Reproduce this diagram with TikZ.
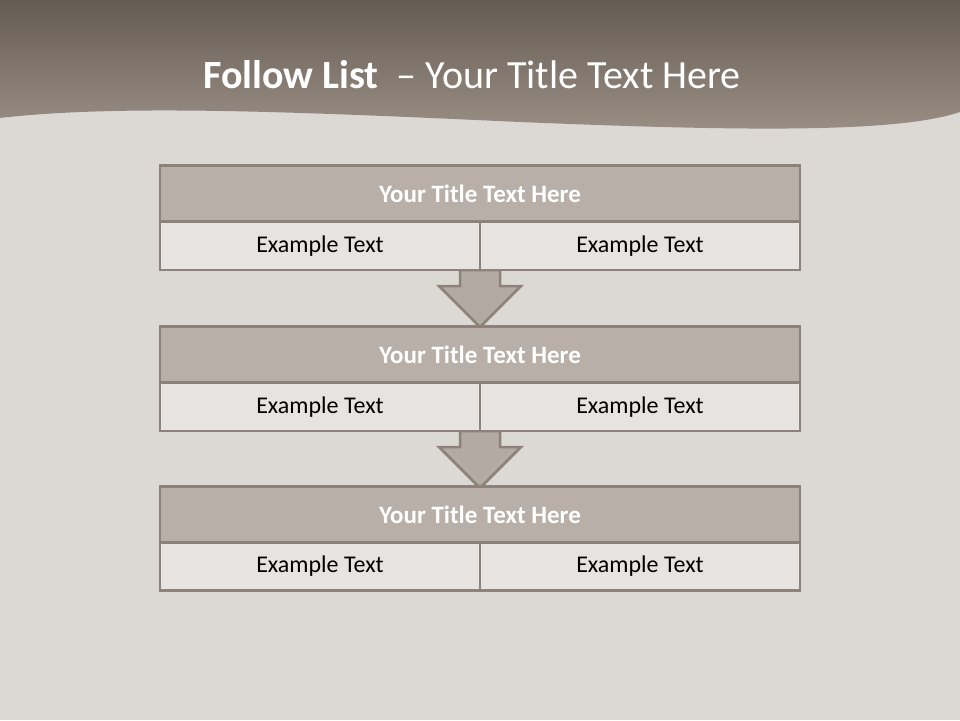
\documentclass[tikz,border=0pt]{standalone}
\usepackage{fontspec}
\setmainfont{Carlito}
\definecolor{bgc}{HTML}{DCD8D3}
\definecolor{hdtop}{HTML}{655C53}
\definecolor{hdbot}{HTML}{9A8F85}
\definecolor{edge}{HTML}{8C8279}
\definecolor{titlefill}{HTML}{B8B0A8}
\definecolor{rowfill}{HTML}{E6E3E0}
\definecolor{arrowfill}{HTML}{B3ABA3}
\tikzset{
  titlebox/.style={draw=edge, line width=2.5pt, fill=titlefill, minimum width=640pt, minimum height=56pt, inner sep=0pt, text=white, font=\fontsize{25}{30}\selectfont\bfseries},
  cellbox/.style={draw=edge, line width=2.5pt, fill=rowfill, minimum width=320pt, minimum height=48pt, inner sep=0pt, text=black, font=\fontsize{24}{29}\selectfont},
  downarrow/.style={draw=edge, line width=2.5pt, fill=arrowfill, line join=miter}
}
\begin{document}
\begin{tikzpicture}[x=1pt,y=-1pt]
\useasboundingbox (0,0) rectangle (960,720);
\fill[bgc] (0,0) rectangle (960,720);
% header band with wave
\shade[top color=hdtop, bottom color=hdbot]
  (0,0) -- (960,0) -- (960,112)
  .. controls (900,132) and (760,132) .. (520,122)
  .. controls (300,112) and (120,104) .. (0,118) -- cycle;
\node (title) at (472,75) {\color{white}\fontsize{40}{46}\selectfont\textbf{Follow List} \ – Your Title Text Here};
% arrows (drawn first so boxes cover shaft top)
\draw[downarrow] (460,270) -- (500,270) -- (500,286) -- (521,286) -- (480,327) -- (439,286) -- (460,286) -- cycle;
\draw[downarrow] (460,431) -- (500,431) -- (500,447) -- (521,447) -- (480,488) -- (439,447) -- (460,447) -- cycle;
% box 1
\node[titlebox] (t1) at (480,193.5) {Your Title Text Here};
\node[cellbox] (a1) at (320,246) {Example Text};
\node[cellbox] (b1) at (640,246) {Example Text};
% box 2
\node[titlebox] (t2) at (480,354.5) {Your Title Text Here};
\node[cellbox] (a2) at (320,407) {Example Text};
\node[cellbox] (b2) at (640,407) {Example Text};
% box 3
\node[titlebox] (t3) at (480,514.5) {Your Title Text Here};
\node[cellbox] (a3) at (320,566.5) {Example Text};
\node[cellbox] (b3) at (640,566.5) {Example Text};
\end{tikzpicture}
\end{document}
